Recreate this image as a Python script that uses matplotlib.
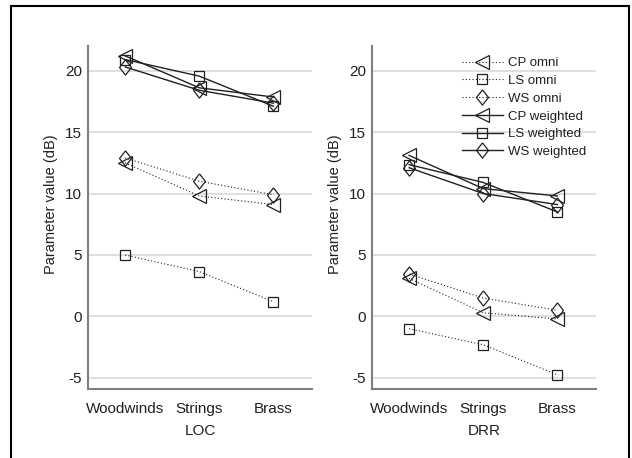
import matplotlib
matplotlib.use('Agg')
import matplotlib.pyplot as plt
from matplotlib.patches import Rectangle

plt.rcParams['font.family'] = ['Liberation Sans', 'DejaVu Sans']
plt.rcParams['axes.unicode_minus'] = False

categories = ['Woodwinds', 'Strings', 'Brass']
panels = ['LOC', 'DRR']
series_labels = ['CP omni', 'LS omni', 'WS omni', 'CP weighted', 'LS weighted', 'WS weighted']
yticks = [-5, 0, 5, 10, 15, 20]

loc_cp_omni = [12.5, 9.8, 9.1]
loc_ls_omni = [5.0, 3.65, 1.2]
loc_ws_omni = [12.9, 11.0, 9.9]
loc_cp_weighted = [21.2, 18.6, 17.85]
loc_ls_weighted = [20.9, 19.55, 17.1]
loc_ws_weighted = [20.3, 18.4, 17.35]

drr_cp_omni = [3.1, 0.3, -0.2]
drr_ls_omni = [-1.0, -2.3, -4.75]
drr_ws_omni = [3.45, 1.5, 0.5]
drr_cp_weighted = [13.1, 10.4, 9.8]
drr_ls_weighted = [12.35, 10.9, 8.5]
drr_ws_weighted = [12.1, 10.0, 9.1]

data = {
    'LOC': [loc_cp_omni, loc_ls_omni, loc_ws_omni, loc_cp_weighted, loc_ls_weighted, loc_ws_weighted],
    'DRR': [drr_cp_omni, drr_ls_omni, drr_ws_omni, drr_cp_weighted, drr_ls_weighted, drr_ws_weighted],
}

ink = '#231f20'
diamond = [(0, 1), (0.78, 0), (0, -1), (-0.78, 0), (0, 1)]
markers = ['<', 's', diamond, '<', 's', diamond]
msizes = [9.5, 6.5, 11, 9.5, 6.5, 11]
dotted = (0, (1, 2))
styles = [dotted, dotted, dotted, '-', '-', '-']
lws = [0.8, 0.8, 0.8, 1.0, 1.0, 1.0]

fig = plt.figure(figsize=(6.32, 4.58), dpi=100)
W, H = 632, 458
axes_px = [(88, 46, 224, 343), (372, 46, 224, 343)]

for (x0, y0, w, h), panel in zip(axes_px, panels):
    ax = fig.add_axes([x0 / W, (H - y0 - h) / H, w / W, h / H])
    xs = list(range(len(categories)))
    for vals, lab, mk, ms, ls, lw in zip(data[panel], series_labels, markers, msizes, styles, lws):
        ax.plot(xs, vals, linestyle=ls, linewidth=lw, color=ink, marker=mk,
                markersize=ms, markerfacecolor='none', markeredgecolor=ink,
                markeredgewidth=0.9, label=lab)
    ax.set_xlim(-0.5, 2.52)
    ax.set_ylim(-5.9, 22)
    ax.set_xticks(xs)
    ax.set_xticklabels(categories, va='baseline')
    ax.set_yticks(yticks)
    ax.set_yticklabels([str(t) for t in yticks])
    ax.tick_params(axis='both', length=0, labelsize=11, colors=ink)
    ax.tick_params(axis='x', pad=17.3)
    ax.tick_params(axis='y', pad=4.5)
    ax.grid(axis='y', color='#d6d6d6', linewidth=1.1)
    ax.set_axisbelow(True)
    for s in ['top', 'right']:
        ax.spines[s].set_visible(False)
    for s in ['left', 'bottom']:
        ax.spines[s].set_color('#857d78')
        ax.spines[s].set_linewidth(1.5)
    ax.set_ylabel('Parameter value (dB)', fontsize=10.5, color=ink)
    ax.yaxis.set_label_coords(-0.135, 0.539)
    ax.set_xlabel(panel, fontsize=11, color=ink, labelpad=6)
    if panel == 'DRR':
        ax.legend(loc='upper left', bbox_to_anchor=(0.4, 0.968), frameon=False,
                  fontsize=9.5, handlelength=3.1, handletextpad=0.45,
                  borderpad=0, borderaxespad=0, labelspacing=0.42, numpoints=1,
                  labelcolor=ink)

fig.add_artist(Rectangle((11 / W, -0.05), (629 - 11) / W, (H - 6) / H + 0.05,
                         transform=fig.transFigure, fill=False, edgecolor='black',
                         linewidth=1.5, clip_on=False))

fig.savefig('out.png', dpi=100)
